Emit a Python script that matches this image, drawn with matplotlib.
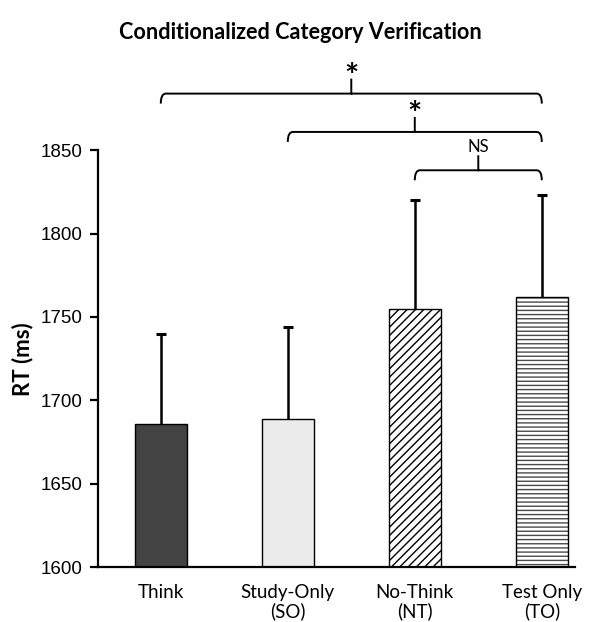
import matplotlib
matplotlib.use("Agg")

import matplotlib.pyplot as plt
from matplotlib.path import Path
from matplotlib.patches import PathPatch

# bar means and upper error (SE)
conditions = ["Think", "Study-Only\n(SO)", "No-Think\n(NT)", "Test Only\n(TO)"]
rt_means = [1686, 1689, 1755, 1762]
rt_err = [54, 55, 65, 61]
bar_colors = ["#434343", "#ececec", "white", "white"]
bar_hatches = [None, None, "////", "----"]
hatch_colors = ["black", "black", "black", "#4a4a4a"]

# comparisons: (left bar, right bar, bracket height, label)
comparisons = [
    (0, 3, 1884, "*"),
    (1, 3, 1861, "*"),
    (2, 3, 1838, "NS"),
]

plt.rcParams["hatch.linewidth"] = 1.0

fig = plt.figure(figsize=(6, 6.22), dpi=100)
ax = fig.add_axes([0.163, 0.0884, 0.795, 0.670])

xs = list(range(len(conditions)))
# fill + hatch first, then a black outline on top
ax.bar(xs, rt_means, width=0.41, color=bar_colors, edgecolor=hatch_colors,
       linewidth=0, zorder=2)
for patch, h in zip(ax.patches, bar_hatches):
    if h:
        patch.set_hatch(h)
ax.bar(xs, rt_means, width=0.41, fill=False, edgecolor="black", linewidth=1.0, zorder=2.5)

line, caps, bars = ax.errorbar(xs, rt_means, yerr=[[0] * len(xs), rt_err], fmt="none",
                               ecolor="black", elinewidth=1.8, capsize=3.5, capthick=2.2,
                               zorder=3)
caps[0].set_visible(False)

ax.set_ylim(1600, 1850)
ax.set_xlim(-0.496, 3.26)
ax.set_yticks([1600, 1650, 1700, 1750, 1800, 1850])
ax.set_xticks(xs)
ax.set_xticklabels(conditions, fontfamily="Lato", fontsize=13.5, linespacing=1.1)
for lab in ax.get_yticklabels():
    lab.set_fontfamily("Liberation Sans")
    lab.set_fontsize(13.5)
ax.tick_params(axis="y", direction="out", length=6, width=1.6, pad=5)
ax.tick_params(axis="x", length=0, pad=12)
ax.spines["top"].set_visible(False)
ax.spines["right"].set_visible(False)
ax.spines["left"].set_linewidth(1.6)
ax.spines["bottom"].set_linewidth(1.6)
ax.set_ylabel("RT (ms)", fontfamily="Lato", fontweight="bold", fontsize=16)
ax.yaxis.set_label_coords(-0.136, 0.5)

fig.suptitle("Conditionalized Category Verification", fontfamily="Lato",
             fontweight="bold", fontsize=15.6, x=0.5, y=0.965)

# significance brackets with rounded ends
for a, b, yb, label in comparisons:
    drop = 6
    r = 0.04
    mid = (a + b) / 2
    verts = [(a, yb - drop), (a, yb), (a + r, yb), (mid, yb), (mid, yb + 9),
             (mid, yb), (b - r, yb), (b, yb), (b, yb - drop)]
    codes = [Path.MOVETO, Path.CURVE3, Path.CURVE3, Path.LINETO, Path.LINETO,
             Path.MOVETO, Path.LINETO, Path.CURVE3, Path.CURVE3]
    ax.add_patch(PathPatch(Path(verts, codes), fill=False, lw=1.4, color="black",
                           clip_on=False))
    if label == "*":
        ax.text(mid, yb + 1, label, ha="center", va="bottom", fontsize=24,
                fontfamily="Lato", fontweight="bold")
    else:
        ax.text(mid, yb + 9, label, ha="center", va="bottom", fontsize=12,
                fontfamily="Lato")

fig.savefig("out.png", dpi=100)
